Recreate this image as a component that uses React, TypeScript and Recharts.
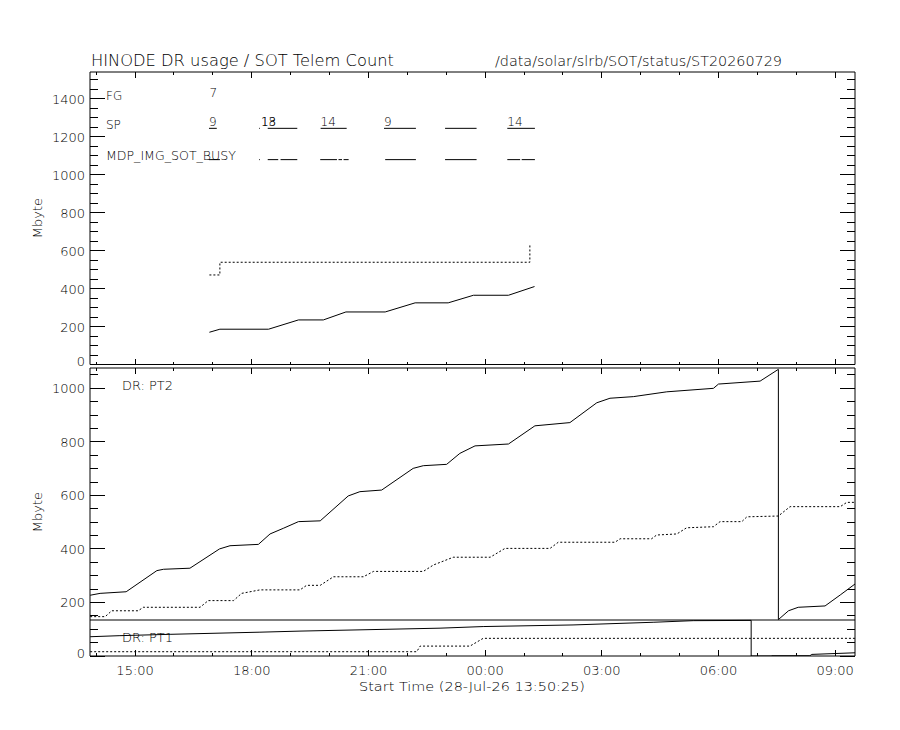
import React from 'react';
import { ComposedChart, Line, XAxis, YAxis, ReferenceLine, Scatter } from 'recharts';

const FONT = '"DejaVu Sans", "Liberation Sans", Arial, sans-serif';
const WEIGHT = 200;

// time axis, hours since 28-Jul-26 00:00
const tStart = 13 + 50 / 60 + 25 / 3600;
const tEnd = 33.51;
const hourTicks = [14, 15, 16, 17, 18, 19, 20, 21, 22, 23, 24, 25, 26, 27, 28, 29, 30, 31, 32, 33];
const labelHours = [15, 18, 21, 24, 27, 30, 33];
const hourLabels = ['15:00', '18:00', '21:00', '00:00', '03:00', '06:00', '09:00'];

// top panel (SOT telemetry)
const topMax = 1542;
const topTicks = [0, 50, 100, 150, 200, 250, 300, 350, 400, 450, 500, 550, 600, 650, 700, 750, 800, 850, 900, 950, 1000, 1050, 1100, 1150, 1200, 1250, 1300, 1350, 1400, 1450, 1500];
const topLabels = [0, 200, 400, 600, 800, 1000, 1200, 1400];

const sotTime = [16.91, 17.18, 18.43, 19.2, 19.84, 20.42, 21.43, 22.2, 23.05, 23.7, 24.6, 25.27];
const sotMbyte = [170, 186, 186, 235, 235, 277, 277, 325, 325, 365, 365, 411];
const sotAllTime = [16.91, 17.18, 17.18, 25.15, 25.15];
const sotAllMbyte = [472, 472, 539, 539, 631];

// observation rows
const rowFG = 1400;
const rowSP = 1245;
const rowBusy = 1080;
const fgTime = [16.91];
const fgLabel = ['7'];
const spStart = [16.9, 18.19, 18.41, 19.77, 21.4, 22.97, 24.57];
const spEnd = [17.1, 18.21, 19.17, 20.44, 22.22, 23.78, 25.28];
const spLabelTime = [16.9, 18.237, 18.237, 19.77, 21.4, 24.57];
const spLabel = ['9', '13', '18', '14', '9', '14'];
const busyStart = [16.9, 18.19, 18.41, 18.74, 19.76, 20.23, 20.36, 21.43, 22.97, 24.57, 24.94];
const busyEnd = [17.18, 18.21, 18.68, 19.17, 20.19, 20.32, 20.49, 22.22, 23.78, 24.9, 25.28];

// bottom panel (data recorder)
const drMax = 1076;
const drTicks = [0, 50, 100, 150, 200, 250, 300, 350, 400, 450, 500, 550, 600, 650, 700, 750, 800, 850, 900, 950, 1000, 1050];
const drLabels = [0, 200, 400, 600, 800, 1000];
const ptSplit = 134.5;

const pt2Time = [13.845, 14.1, 14.77, 15.56, 15.73, 16.41, 17.17, 17.44, 18.17, 18.47, 18.81, 19.2, 19.76, 20.48, 20.78, 21.34, 22.15, 22.41, 23.01, 23.35, 23.74, 24.6, 25.28, 26.18, 26.87, 27.21, 27.81, 28.67, 29.87, 30.0, 31.07, 31.54, 31.54, 31.8, 32.05, 32.74, 33.13, 33.51];
const pt2Mbyte = [227, 234, 240, 319, 324, 328, 400, 412, 417, 456, 477, 502, 505, 598, 614, 620, 701, 711, 716, 757, 785, 792, 860, 872, 946, 963, 969, 987, 1000, 1016, 1027, 1071, 136, 169, 182, 187, 228, 269];
const pt2SotTime = [13.845, 14.23, 14.4, 15.08, 15.21, 16.67, 16.88, 17.53, 17.74, 18.21, 19.24, 19.41, 19.76, 20.1, 20.87, 21.13, 22.41, 22.67, 23.18, 24.13, 24.51, 25.67, 25.88, 27.34, 27.47, 28.28, 28.41, 28.93, 29.18, 29.87, 30.04, 30.6, 30.73, 31.54, 31.84, 33.13, 33.3, 33.51];
const pt2SotMbyte = [147, 147, 169, 169, 182, 182, 207, 207, 234, 247, 247, 264, 264, 296, 296, 316, 316, 340, 369, 369, 402, 402, 425, 425, 438, 438, 452, 456, 479, 483, 502, 502, 520, 523, 558, 558, 574, 574];
const pt1Time = [13.845, 14.61, 15.9, 18.21, 19.24, 22.84, 23.95, 26.26, 28.32, 29.35, 30.84, 30.84, 31.37, 31.37, 32.35, 32.4, 33.51];
const pt1Mbyte = [72, 76, 81, 89, 93, 104, 110, 116, 126, 132, 133, 0, 0, 1, 1, 6, 12];
const pt1SotTime = [13.845, 22.24, 22.33, 23.61, 23.95, 33.51];
const pt1SotMbyte = [16, 16, 37, 37, 66, 66];

const rows = (t: number[], v: number[]) => t.map((x, i) => ({ t: x, v: v[i] }));

const xTick = (dir: number, withLabel: boolean) => (p: any) => {
  const { x, y, payload } = p;
  const idx = labelHours.indexOf(payload.value);
  const len = idx >= 0 ? 6 : 3;
  return (
    <g>
      <line x1={x} x2={x} y1={y} y2={y + dir * len} stroke="#000" shapeRendering="crispEdges" />
      {withLabel && idx >= 0 && (
        <text x={x} y={y + 19} textAnchor="middle" fontSize={13} fontFamily={FONT} fontWeight={WEIGHT} fill="#000">
          {hourLabels[idx]}
        </text>
      )}
    </g>
  );
};

const yTick = (dir: number, labels: number[], withLabel: boolean) => (p: any) => {
  const { x, y, payload } = p;
  const major = labels.includes(payload.value);
  const len = major ? 15 : 8;
  return (
    <g>
      <line x1={x} x2={x + dir * len} y1={y} y2={y} stroke="#000" shapeRendering="crispEdges" />
      {withLabel && major && (
        <text x={x - 5} y={y + (payload.value === 0 ? 1.5 : 5)} textAnchor="end" fontSize={13} fontFamily={FONT} fontWeight={WEIGHT} fill="#000">
          {payload.value}
        </text>
      )}
    </g>
  );
};

const obsLabel = (p: any) => (
  <text x={p.cx} y={p.cy - 2} fontSize={12} fontFamily={FONT} fontWeight={WEIGHT} fill="#000">
    {p.payload.label}
  </text>
);

// axes are 1px thick so recharts still draws them; ticks point inward like the original plot
const Axes = ({ yMax, yTicks, yLabels, xLabels }: any) => [
  <XAxis key="xb" xAxisId="b" type="number" dataKey="t" domain={[tStart, tEnd]} allowDataOverflow ticks={hourTicks} interval={0}
    height={1} tickSize={0} tickMargin={0} tickLine={false} tick={xTick(-1, xLabels)} stroke="#000" />,
  <XAxis key="xt" xAxisId="t" orientation="top" type="number" dataKey="t" domain={[tStart, tEnd]} allowDataOverflow ticks={hourTicks} interval={0}
    height={1} tickSize={0} tickMargin={0} tickLine={false} tick={xTick(1, false)} stroke="#000" />,
  <YAxis key="yl" yAxisId="l" type="number" dataKey="v" domain={[0, yMax]} allowDataOverflow ticks={yTicks} interval={0}
    width={1} tickSize={0} tickMargin={0} tickLine={false} tick={yTick(1, yLabels, true)} stroke="#000" />,
  <YAxis key="yr" yAxisId="r" orientation="right" type="number" dataKey="v" domain={[0, yMax]} allowDataOverflow ticks={yTicks} interval={0}
    width={1} tickSize={0} tickMargin={0} tickLine={false} tick={yTick(-1, yLabels, false)} stroke="#000" />,
];

const line = (key: string, data: any[], dotted: boolean) => (
  <Line key={key} xAxisId="b" yAxisId="l" data={data} dataKey="v" type="linear" stroke="#000" strokeWidth={1}
    strokeDasharray={dotted ? '2 2' : undefined} dot={false} activeDot={false} isAnimationActive={false} />
);

const segments = (starts: number[], ends: number[], row: number, prefix: string) =>
  starts.map((s, i) => (
    <ReferenceLine key={prefix + i} xAxisId="b" yAxisId="l" segment={[{ x: s, y: row }, { x: ends[i], y: row }]}
      stroke="#000" strokeWidth={1} />
  ));

const App = () => {
  const fgData = fgTime.map((t, i) => ({ t, v: rowFG, label: fgLabel[i] }));
  const spData = spLabelTime.map((t, i) => ({ t, v: rowSP, label: spLabel[i] }));
  const txt = { fontFamily: FONT, fontWeight: WEIGHT, fill: '#000' };
  return (
    <div style={{ position: 'absolute', left: 0, top: 0, width: 900, height: 730, background: '#fff' }}>
      <div style={{ position: 'absolute', left: 0, top: 0 }}>
        <ComposedChart width={900} height={380} margin={{ top: 71, right: 44, bottom: 14.5, left: 89 }}>
          {Axes({ yMax: topMax, yTicks: topTicks, yLabels: topLabels, xLabels: false })}
          {line('sot', rows(sotTime, sotMbyte), false)}
          {line('sotAll', rows(sotAllTime, sotAllMbyte), true)}
          {segments(spStart, spEnd, rowSP, 'sp')}
          {segments(busyStart, busyEnd, rowBusy, 'busy')}
          <Scatter xAxisId="b" yAxisId="l" data={fgData} dataKey="v" shape={obsLabel} isAnimationActive={false} />
          <Scatter xAxisId="b" yAxisId="l" data={spData} dataKey="v" shape={obsLabel} isAnimationActive={false} />
        </ComposedChart>
      </div>
      <div style={{ position: 'absolute', left: 0, top: 360 }}>
        <ComposedChart width={900} height={370} margin={{ top: 7, right: 44, bottom: 73, left: 89 }}>
          {Axes({ yMax: drMax, yTicks: drTicks, yLabels: drLabels, xLabels: true })}
          <ReferenceLine xAxisId="b" yAxisId="l" y={ptSplit} stroke="#000" strokeWidth={1} />
          {line('pt2', rows(pt2Time, pt2Mbyte), false)}
          {line('pt2sot', rows(pt2SotTime, pt2SotMbyte), true)}
          {line('pt1', rows(pt1Time, pt1Mbyte), false)}
          {line('pt1sot', rows(pt1SotTime, pt1SotMbyte), true)}
        </ComposedChart>
      </div>
      <svg width={900} height={730} style={{ position: 'absolute', left: 0, top: 0, pointerEvents: 'none' }}>
        <text x={91} y={66} fontSize={15} textLength={303} lengthAdjust="spacingAndGlyphs" {...txt}>HINODE DR usage / SOT Telem Count</text>
        <text x={495} y={66} fontSize={14} textLength={287} lengthAdjust="spacingAndGlyphs" {...txt}>/data/solar/slrb/SOT/status/ST20260729</text>
        <text x={106} y={99.5} fontSize={12} {...txt}>FG</text>
        <text x={106} y={128.5} fontSize={12} {...txt}>SP</text>
        <text x={106} y={159.5} fontSize={12} textLength={130} lengthAdjust="spacingAndGlyphs" {...txt}>MDP_IMG_SOT_BUSY</text>
        <text x={42} y={218} fontSize={13} textAnchor="middle" transform="rotate(-90 42 218)" {...txt}>Mbyte</text>
        <text x={42} y={512} fontSize={13} textAnchor="middle" transform="rotate(-90 42 512)" {...txt}>Mbyte</text>
        <text x={122} y={390} fontSize={13} textLength={51} lengthAdjust="spacingAndGlyphs" {...txt}>DR: PT2</text>
        <text x={122} y={642} fontSize={13} textLength={51} lengthAdjust="spacingAndGlyphs" {...txt}>DR: PT1</text>
        <text x={359} y={691} fontSize={13} textLength={226} lengthAdjust="spacingAndGlyphs" {...txt}>Start Time (28-Jul-26 13:50:25)</text>
      </svg>
    </div>
  );
};

export default App;
